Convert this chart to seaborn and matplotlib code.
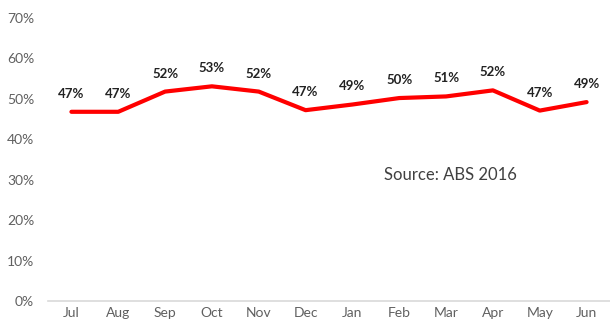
import matplotlib
matplotlib.use("Agg")
import matplotlib.pyplot as plt
import seaborn as sns
import pandas as pd

months = ["Jul", "Aug", "Sep", "Oct", "Nov", "Dec", "Jan", "Feb", "Mar", "Apr", "May", "Jun"]
share = [46.8, 46.8, 51.8, 53.1, 51.8, 47.2, 48.6, 50.2, 50.6, 52.1, 47.1, 49.2]
yticks = [0, 10, 20, 30, 40, 50, 60, 70]

df = pd.DataFrame({"month": months, "share": share})
df["pos"] = range(len(months))

sns.set_theme(style="white")
plt.rcParams["font.family"] = ["Lato", "DejaVu Sans"]

fig = plt.figure(figsize=(6.10, 3.21), dpi=100)
ax = fig.add_axes([48 / 610, 1 - 301 / 321, 1 - 48 / 610, (301 - 18) / 321])

sns.lineplot(data=df, x="pos", y="share", color="#ff0000", linewidth=3, ax=ax)

for x, v in zip(df["pos"], df["share"]):
    ax.annotate(f"{v:.0f}%", (x, v), xytext=(0, 13), textcoords="offset points",
                ha="center", va="center", fontsize=9.5, fontweight="bold", color="#222222")

ax.set_xlim(-0.5, len(months) - 0.5)
ax.set_ylim(0, 70)
ax.set_xticks(df["pos"])
ax.set_xticklabels(months)
ax.set_yticks(yticks)
ax.set_yticklabels([f"{t}%" for t in yticks])
ax.tick_params(axis="both", labelsize=10, colors="#606060", length=0)
ax.tick_params(axis="y", pad=10)
ax.tick_params(axis="x", pad=4)
ax.set_xlabel("")
ax.set_ylabel("")
for side in ["top", "right", "left"]:
    ax.spines[side].set_visible(False)
ax.spines["bottom"].set_color("#d9d9d9")
ax.spines["bottom"].set_linewidth(1.2)

ax.text((384 - 48) / 562, (301 - 175) / 283, "Source: ABS 2016",
        transform=ax.transAxes, fontsize=12, color="#404040", va="center", ha="left")

fig.savefig("out.png", dpi=100)
